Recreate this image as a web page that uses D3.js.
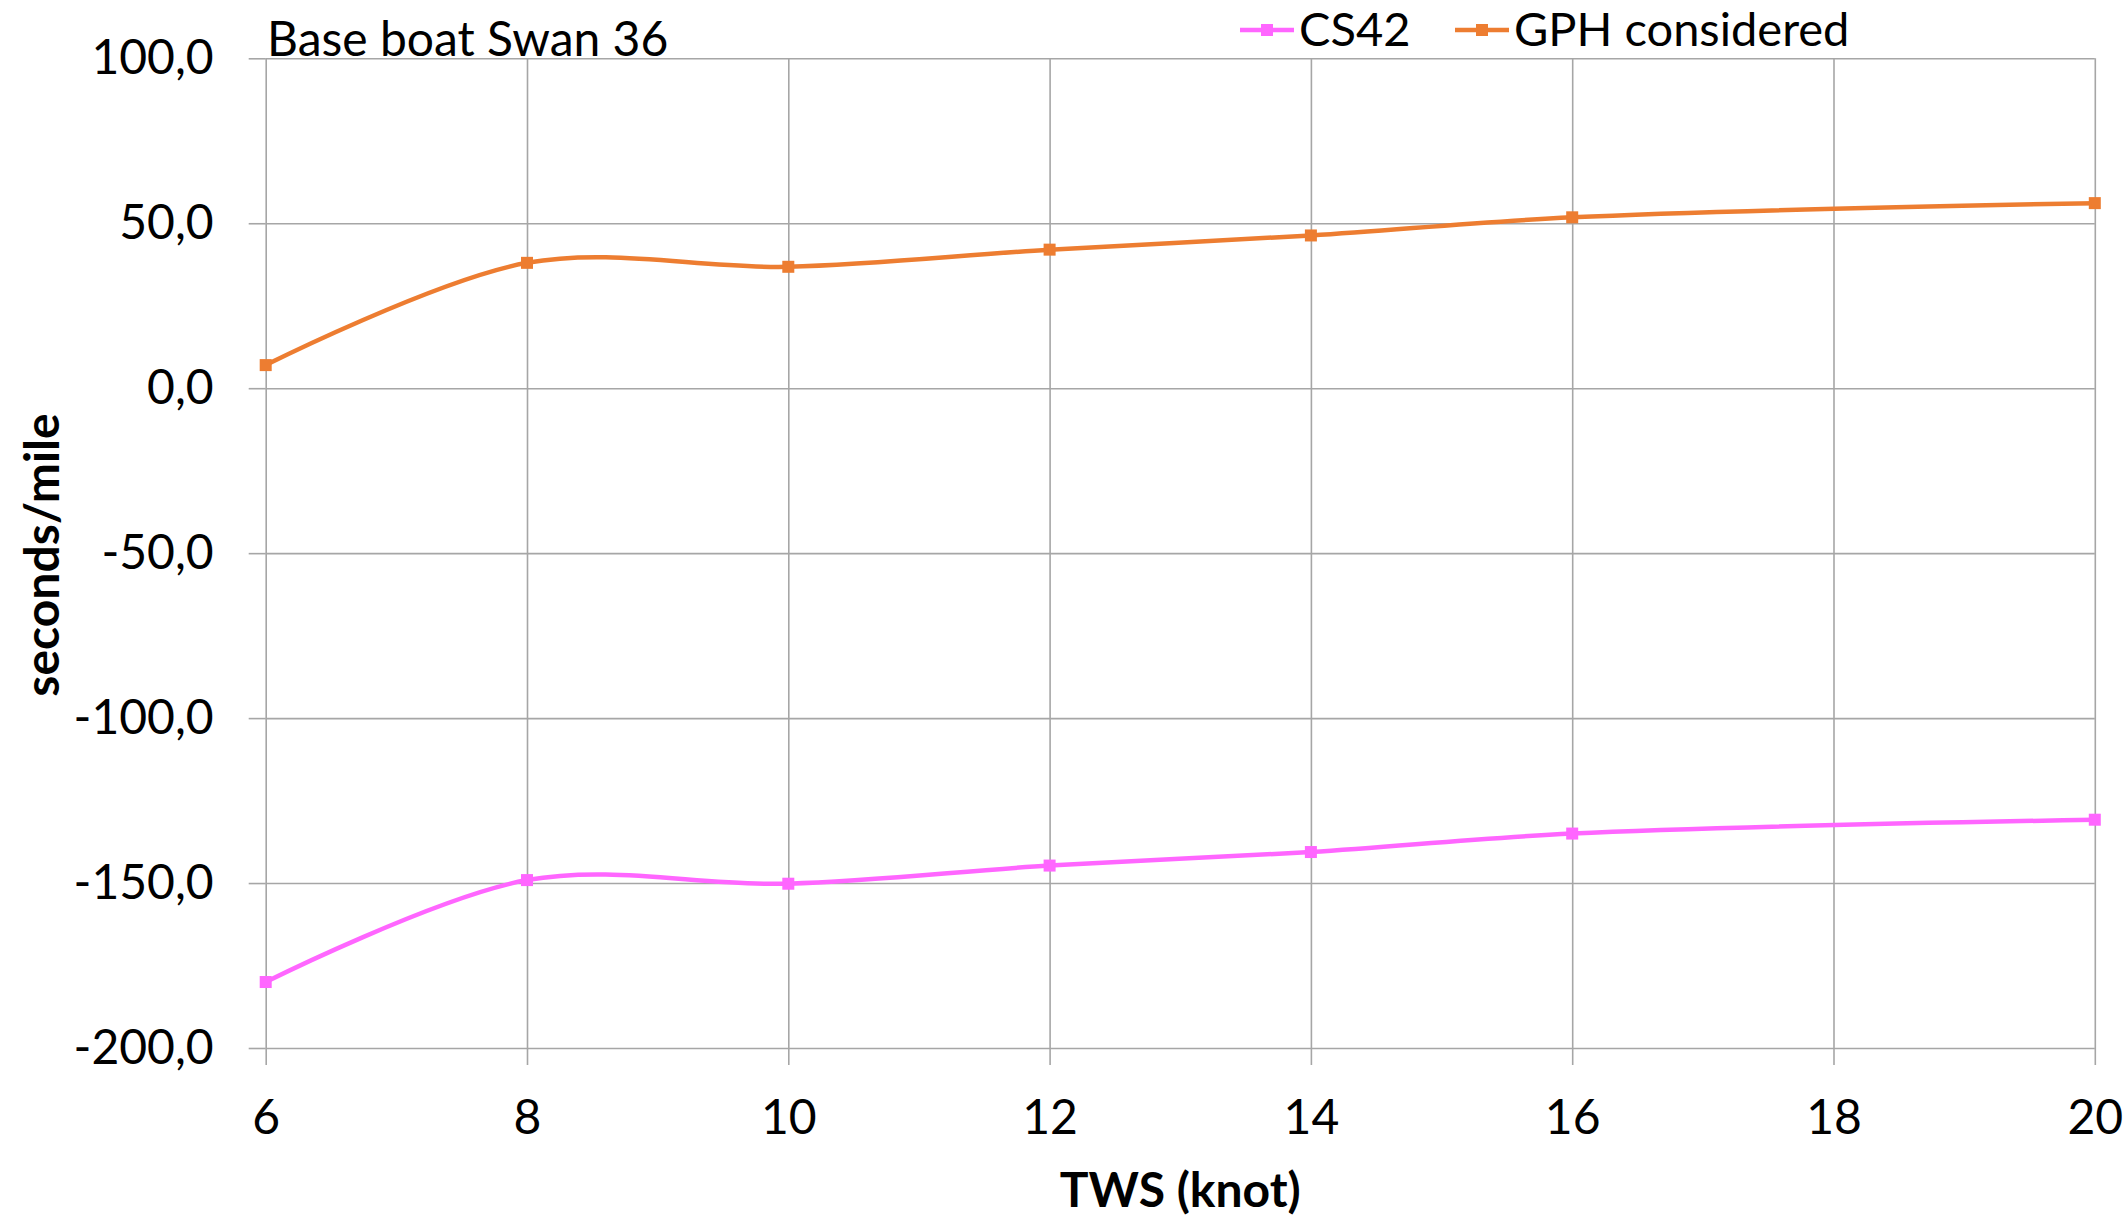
<!DOCTYPE html>
<html>
<head>
    <meta charset="utf-8">
    <title>Base boat Swan 36</title>
    <script src="https://d3js.org/d3.v7.min.js"></script>
    <style>
        body { margin: 0; background: white; }
        text { font-family: Lato, "Open Sans", sans-serif; fill: #000; }
    </style>
</head>
<body>
    <script>
        // chart data
        var tws = [6, 8, 10, 12, 14, 16, 20];
        var cs42 = [-180.0, -149.1, -150.2, -144.7, -140.6, -135.0, -130.8];
        var gphConsidered = [7.0, 38.0, 36.8, 42.0, 46.3, 51.8, 56.1];
        var xTicks = [6, 8, 10, 12, 14, 16, 18, 20];
        var yTicks = [-200, -150, -100, -50, 0, 50, 100];
        var seriesNames = ["CS42", "GPH considered"];
        var seriesColors = ["#FF66FF", "#ED7D31"];

        var W = 2126, H = 1218;
        var margin = { top: 58.3, right: 31.2, left: 265.7 },
            width = W - margin.left - margin.right,
            height = 1048 - margin.top;

        var svg = d3.select("body").append("svg")
            .attr("width", W)
            .attr("height", H);

        var g = svg.append("g")
            .attr("transform", "translate(" + margin.left + "," + margin.top + ")");

        var x = d3.scaleLinear().domain([6, 20]).range([0, width]);
        var y = d3.scaleLinear().domain([-200, 100]).range([height, 0]);

        // comma decimals, plain hyphen as minus
        var fmt = d3.formatLocale({ decimal: ",", thousands: ".", grouping: [3], currency: ["", ""], minus: "-" }).format(".1f");

        // grid lines
        g.append("g")
            .call(d3.axisLeft(y).tickValues(yTicks).tickSize(-width).tickFormat(""))
            .call(a => a.select(".domain").remove())
            .selectAll("line").attr("stroke", "#A6A6A6").attr("stroke-width", 1.6);
        g.append("g")
            .attr("transform", "translate(0," + height + ")")
            .call(d3.axisBottom(x).tickValues(xTicks).tickSizeInner(-height).tickFormat(""))
            .call(a => a.select(".domain").remove())
            .selectAll("line").attr("stroke", "#A6A6A6").attr("stroke-width", 1.6);

        // axes with labels and outside ticks
        var yAxis = g.append("g")
            .call(d3.axisLeft(y).tickValues(yTicks).tickSize(17).tickPadding(35).tickFormat(fmt));
        yAxis.select(".domain").remove();
        yAxis.selectAll("line").attr("stroke", "#A6A6A6").attr("stroke-width", 1.6);
        yAxis.selectAll("text").style("font-size", "48px").attr("fill", "#000");

        var xAxis = g.append("g")
            .attr("transform", "translate(0," + height + ")")
            .call(d3.axisBottom(x).tickValues(xTicks).tickSize(17).tickPadding(35).tickFormat(d3.format("d")));
        xAxis.select(".domain").remove();
        xAxis.selectAll("line").attr("stroke", "#A6A6A6").attr("stroke-width", 1.6);
        xAxis.selectAll("text").style("font-size", "48px").attr("fill", "#000");

        // series
        var series = [cs42, gphConsidered];
        var line = d3.line()
            .x((d, i) => x(tws[i]))
            .y(d => y(d))
            .curve(d3.curveCatmullRom);

        series.forEach(function (values, s) {
            g.append("path")
                .datum(values)
                .attr("fill", "none")
                .attr("stroke", seriesColors[s])
                .attr("stroke-width", 4.5)
                .attr("d", line);
            g.selectAll(".m" + s)
                .data(values)
                .enter()
                .append("rect")
                .attr("class", "m" + s)
                .attr("x", (d, i) => x(tws[i]) - 6)
                .attr("y", d => y(d) - 6)
                .attr("width", 12)
                .attr("height", 12)
                .attr("fill", seriesColors[s]);
        });

        // title inside top-left
        svg.append("text")
            .attr("x", 267)
            .attr("y", 56)
            .style("font-size", "48px")
            .text("Base boat Swan 36");

        // axis titles
        svg.append("text")
            .attr("x", margin.left + width / 2)
            .attr("y", 1207)
            .attr("text-anchor", "middle")
            .style("font-size", "48px")
            .style("font-weight", "bold")
            .text("TWS (knot)");

        svg.append("text")
            .attr("transform", "translate(59," + 555 + ") rotate(-90)")
            .attr("text-anchor", "middle")
            .style("font-size", "48px")
            .style("font-weight", "bold")
            .text("seconds/mile");

        // legend
        var legendX = [1240, 1455];
        seriesNames.forEach(function (name, s) {
            var lg = svg.append("g").attr("transform", "translate(" + legendX[s] + ",30)");
            lg.append("line")
                .attr("x1", 0).attr("x2", 54)
                .attr("stroke", seriesColors[s])
                .attr("stroke-width", 4.5);
            lg.append("rect")
                .attr("x", 21).attr("y", -6)
                .attr("width", 12).attr("height", 12)
                .attr("fill", seriesColors[s]);
            lg.append("text")
                .attr("x", 59)
                .attr("y", 16)
                .style("font-size", "47px")
                .text(name);
        });
    </script>
</body>
</html>
